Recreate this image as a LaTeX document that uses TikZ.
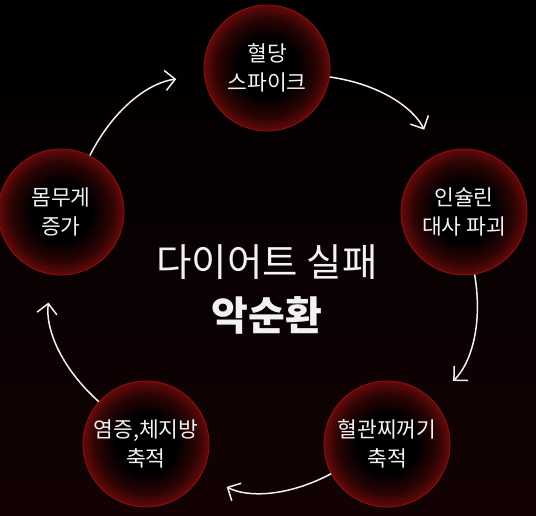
\documentclass[tikz,border=0pt]{standalone}
\usepackage{fontspec}
\newfontfamily\krfont{Noto Sans CJK KR}
\usepackage{tikz}
\usetikzlibrary{arrows.meta, calc, positioning}

\definecolor{nodered}{HTML}{640909}
\definecolor{rimred}{HTML}{8E1212}
\definecolor{bgbottom}{HTML}{130204}
\definecolor{txtwhite}{HTML}{F2F2F2}
\pgfdeclareradialshading{redglow}{\pgfpoint{0bp}{0bp}}{color(0bp)=(black); color(12bp)=(black); color(20bp)=(nodered!45!black); color(25bp)=(nodered); color(50bp)=(nodered)}

\begin{document}
\begin{tikzpicture}[x=1pt,y=1pt,>=Straight Barb,
                    step node/.style={circle,draw=rimred,line width=0.8pt,shading=redglow,
                      minimum size=126pt,inner sep=0pt,align=center,text=txtwhite,
                      font=\krfont\fontsize{21.5}{29}\selectfont},
                    flow/.style={draw=txtwhite,line width=1.5pt,
                      -{Straight Barb[length=10pt,width=20pt]},shorten >=28pt}]

  % background
  \shade[top color=black,bottom color=bgbottom] (0,0) rectangle (536,516);
  \useasboundingbox (0,0) rectangle (536,516);

  \node[step node] (spike)   at (267,448) {혈당\\스파이크};
  \node[step node] (insulin) at (464,304) {인슐린\\대사 파괴};
  \node[step node] (plaque)  at (387,72)  {혈관찌꺼기\\축적};
  \node[step node] (fat)     at (146,72)  {염증,체지방\\축적};
  \node[step node] (weight)  at (61,304)  {몸무게\\증가};

  \node[text=txtwhite,font=\krfont\fontsize{38.5}{44}\selectfont] (title) at (267,254) {다이어트 실패};
  \node[text=txtwhite,font=\krfont\bfseries\fontsize{40}{46}\selectfont] (cycle) at (267,201) {악순환};

  \path[flow]
    (spike)   edge[bend left=28] (insulin)
    (insulin) edge[bend left=28] (plaque)
    (plaque)  edge[bend left=28] (fat)
    (fat)     edge[bend left=28] (weight)
    (weight)  edge[bend left=28] (spike);

\end{tikzpicture}
\end{document}
